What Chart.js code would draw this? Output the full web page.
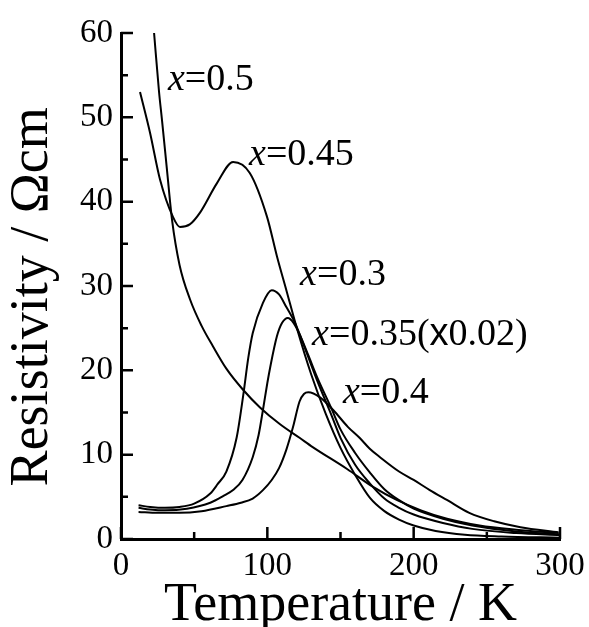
<!DOCTYPE html>
<html>
<head>
<meta charset="utf-8">
<script src="https://cdn.jsdelivr.net/npm/chart.js@4/dist/chart.umd.min.js"></script>
<style>
  html, body { margin: 0; padding: 0; background: #fff; }
  #chart { display: block; }
</style>
</head>
<body>
<canvas id="chart" width="589" height="627"></canvas>
<script>
// Resistivity vs temperature, five compositions

const xTicks = [0, 100, 200, 300];
const xMinorTicks = [50, 150, 250];
const yTicks = [0, 10, 20, 30, 40, 50, 60];
const yMinorTicks = [5, 15, 25, 35, 45, 55];

// x = 0.5
const t05 = [22.6, 26, 28, 31.4, 34.9, 40, 47.2, 55, 63, 72, 83.4, 95, 108.7, 122, 131, 154.5, 172, 188.7, 205, 222.8, 245, 270, 299];
const r05 = [60, 53, 49.7, 43.8, 37.8, 32.5, 28.4, 25.3, 22.8, 20.2, 17.7, 15.6, 13.6, 12.0, 10.9, 8.3, 6.2, 4.6, 3.4, 2.4, 1.6, 1.1, 0.7];

// x = 0.45
const t045 = [13, 19.8, 26.7, 35.5, 40.3, 47, 54, 65.6, 76.6, 88, 99.8, 106.6, 113, 120, 130, 140, 150, 160, 170, 180, 190, 200, 215, 235, 260, 300];
const r045 = [53, 48.2, 42.6, 38.2, 37, 37.3, 38.7, 42.2, 44.7, 43.4, 38.2, 33.5, 29.5, 25.1, 19.5, 14.8, 10.8, 7.6, 4.9, 3.3, 2.3, 1.6, 0.95, 0.5, 0.3, 0.15];

// x = 0.3
const t03 = [12, 20, 30, 40, 50, 61, 66, 72, 79, 83.5, 87, 90, 97, 103, 108, 113, 119, 124, 134, 144, 150, 160, 170, 180, 190, 200, 220, 240, 270, 300];
const r03 = [4.0, 3.8, 3.7, 3.8, 4.2, 5.4, 6.5, 8.0, 12.0, 17.0, 21.5, 24.4, 28.0, 29.5, 29.0, 27.5, 25.6, 23.4, 18.8, 14.6, 12.0, 8.8, 6.6, 4.8, 3.7, 2.9, 1.9, 1.2, 0.7, 0.45];

// x = 0.35 (x0.02)
const t035 = [12, 20, 30, 45, 61, 70, 76.6, 83, 90, 94, 97, 100, 102, 106.5, 110, 114, 118, 122, 128, 134, 144, 150, 160, 170, 180, 190, 200, 220, 240, 270, 300];
const r035 = [3.7, 3.5, 3.4, 3.6, 4.3, 5.1, 5.8, 7.0, 9.7, 12.3, 15.3, 18.5, 20.4, 24.0, 25.6, 26.2, 25.6, 24.3, 21.8, 19.2, 15.4, 13.0, 10.2, 7.9, 5.9, 4.6, 3.6, 2.4, 1.6, 0.9, 0.55];

// x = 0.4
const t04 = [12, 25, 40, 55, 72, 82, 90, 97, 103, 108, 113, 117.6, 122, 125, 128, 136, 145, 155, 163, 170, 177, 190, 200, 211, 223, 238, 255, 273, 299];
const r04 = [3.2, 3.1, 3.1, 3.3, 3.9, 4.3, 4.8, 5.8, 7.0, 8.4, 10.6, 13.3, 16.3, 17.2, 17.4, 16.8, 15.3, 13.3, 12.0, 10.7, 9.7, 8.0, 7.0, 5.8, 4.6, 3.1, 2.1, 1.4, 0.8];

const series = [
  { name: 'x=0.5', t: t05, r: r05 },
  { name: 'x=0.45', t: t045, r: r045 },
  { name: 'x=0.3', t: t03, r: r03 },
  { name: 'x=0.35(x0.02)', t: t035, r: r035 },
  { name: 'x=0.4', t: t04, r: r04 }
];

// curve labels, anchored in data units (left edge, baseline)
const labelAnchors = [
  { at: [32.1, 53.3], parts: [['x', 'i'], ['=0.5', 'r']] },
  { at: [87.5, 44.4], parts: [['x', 'i'], ['=0.45', 'r']] },
  { at: [122.4, 30.1], parts: [['x', 'i'], ['=0.3', 'r']] },
  { at: [130.6, 23.0], parts: [['x', 'i'], ['=0.35(', 'r'], ['x', 's'], ['0.02)', 'r']] },
  { at: [151.7, 16.1], parts: [['x', 'i'], ['=0.4', 'r']] }
];

const serif = '"Liberation Serif", "Times New Roman", serif';
const sans = '"Liberation Sans", Arial, sans-serif';

const fonts = {
  i: 'italic 38px ' + serif,
  r: '38px ' + serif,
  s: '38px ' + sans
};

const axisDecor = {
  id: 'axisDecor',
  afterDatasetsDraw(chart) {
    const { ctx, chartArea, scales: { x, y } } = chart;
    ctx.save();
    ctx.strokeStyle = '#000';
    ctx.lineWidth = 2.5;
    ctx.beginPath();
    xTicks.forEach(v => {
      const px = x.getPixelForValue(v);
      ctx.moveTo(px, chartArea.bottom);
      ctx.lineTo(px, chartArea.bottom - 12);
    });
    xMinorTicks.forEach(v => {
      const px = x.getPixelForValue(v);
      ctx.moveTo(px, chartArea.bottom);
      ctx.lineTo(px, chartArea.bottom - 7);
    });
    yTicks.forEach(v => {
      const py = y.getPixelForValue(v);
      ctx.moveTo(chartArea.left, py);
      ctx.lineTo(chartArea.left + 12, py);
    });
    yMinorTicks.forEach(v => {
      const py = y.getPixelForValue(v);
      ctx.moveTo(chartArea.left, py);
      ctx.lineTo(chartArea.left + 7, py);
    });
    ctx.stroke();

    // curve labels
    ctx.fillStyle = '#000';
    ctx.textBaseline = 'alphabetic';
    ctx.textAlign = 'left';
    labelAnchors.forEach(lab => {
      let px = x.getPixelForValue(lab.at[0]);
      const py = y.getPixelForValue(lab.at[1]);
      lab.parts.forEach(([txt, f]) => {
        ctx.font = fonts[f];
        ctx.fillText(txt, px, py);
        px += ctx.measureText(txt).width;
      });
    });
    ctx.restore();
  }
};

const datasets = series.map(s => ({
  label: s.name,
  data: s.t.map((t, i) => ({ x: t, y: s.r[i] })),
  borderColor: '#000',
  borderWidth: 2,
  pointRadius: 0,
  fill: false,
  showLine: true,
  cubicInterpolationMode: 'monotone'
}));

new Chart(document.getElementById('chart'), {
  type: 'scatter',
  data: { datasets },
  options: {
    responsive: false,
    animation: false,
    layout: { padding: { top: 33, right: 29, left: 0, bottom: 0 } },
    plugins: {
      legend: { display: false },
      tooltip: { enabled: false }
    },
    scales: {
      x: {
        type: 'linear',
        min: 0,
        max: 300,
        afterFit: s => {
          s.height = 88;
          s.paddingLeft = 0;
          s.paddingRight = 0;
        },
        afterBuildTicks: s => { s.ticks = xTicks.map(v => ({ value: v })); },
        grid: { display: false, drawTicks: false },
        border: { display: true, color: '#000', width: 3 },
        ticks: {
          color: '#000',
          padding: 8,
          maxRotation: 0,
          font: { family: serif, size: 33 }
        },
        title: {
          display: true,
          text: 'Temperature / K',
          color: '#000',
          font: { family: serif, size: 54, lineHeight: 0.8 },
          padding: { top: 1, bottom: 0 }
        }
      },
      y: {
        type: 'linear',
        min: 0,
        max: 60,
        afterFit: s => {
          s.width = 121;
          s.paddingTop = 0;
          s.paddingBottom = 0;
        },
        afterBuildTicks: s => { s.ticks = yTicks.map(v => ({ value: v })); },
        grid: { display: false, drawTicks: false },
        border: { display: true, color: '#000', width: 3 },
        ticks: {
          color: '#000',
          padding: 8,
          font: { family: serif, size: 33 }
        },
        title: {
          display: true,
          text: 'Resistivity / Ωcm\u2009\u2009',
          color: '#000',
          font: { family: serif, size: 54, lineHeight: 1 },
          padding: { top: 6, bottom: 0 }
        }
      }
    }
  },
  plugins: [axisDecor]
});
</script>
</body>
</html>
